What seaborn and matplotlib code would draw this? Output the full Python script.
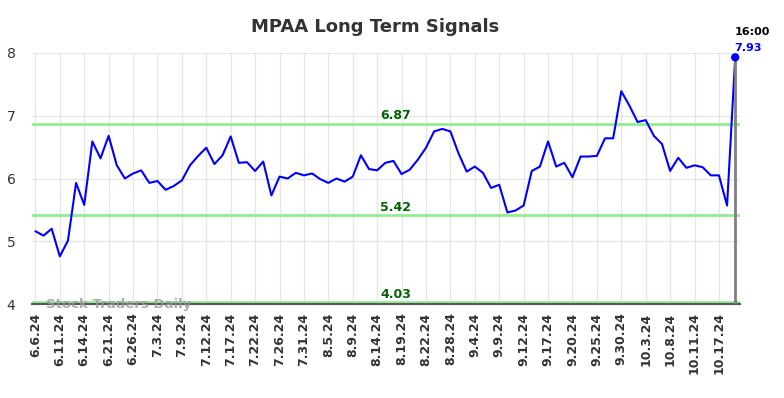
import numpy as np
import pandas as pd
import matplotlib
matplotlib.use("Agg")
import matplotlib.pyplot as plt
import seaborn as sns

# daily closes (one per trading day)
prices = [5.16, 5.09, 5.20, 4.76, 5.01, 5.93, 5.58, 6.59, 6.32, 6.68,
          6.21, 6.00, 6.08, 6.13, 5.93, 5.96, 5.82, 5.88, 5.97, 6.21,
          6.36, 6.49, 6.23, 6.37, 6.67, 6.25, 6.26, 6.12, 6.27, 5.73,
          6.03, 6.00, 6.09, 6.05, 6.08, 5.99, 5.93, 6.00, 5.95, 6.03,
          6.37, 6.15, 6.13, 6.25, 6.28, 6.07, 6.14, 6.30, 6.49, 6.75,
          6.79, 6.75, 6.40, 6.11, 6.19, 6.09, 5.85, 5.90, 5.46, 5.49,
          5.57, 6.12, 6.19, 6.59, 6.19, 6.25, 6.02, 6.35, 6.35, 6.36,
          6.64, 6.64, 7.39, 7.16, 6.90, 6.93, 6.68, 6.55, 6.12, 6.33,
          6.17, 6.21, 6.18, 6.05, 6.05, 5.57, 7.93]

tick_labels = ["6.6.24", "6.11.24", "6.14.24", "6.21.24", "6.26.24", "7.3.24",
               "7.9.24", "7.12.24", "7.17.24", "7.22.24", "7.26.24", "7.31.24",
               "8.5.24", "8.9.24", "8.14.24", "8.19.24", "8.22.24", "8.28.24",
               "9.4.24", "9.9.24", "9.12.24", "9.17.24", "9.20.24", "9.25.24",
               "9.30.24", "10.3.24", "10.8.24", "10.11.24", "10.17.24"]

signal_levels = [6.87, 5.42, 4.03]
last_time = "16:00"

df = pd.DataFrame({"idx": np.arange(len(prices)), "price": prices})

sns.set_style("whitegrid")
fig = plt.figure(figsize=(7.84, 3.98), dpi=100)
ax = fig.add_axes([0.041, 0.236, 0.903, 0.631])

sns.lineplot(data=df, x="idx", y="price", color="#0000ff", linewidth=1.5, ax=ax)
sns.scatterplot(data=df.tail(1), x="idx", y="price", color="#0000ff", s=36,
                edgecolor="none", ax=ax, zorder=5)

# level labels sit a little right of centre
label_x = 44.3
for lvl in signal_levels:
    ax.axhline(lvl, color="#90ee90", linewidth=2, zorder=1)
    ax.annotate(f"{lvl:.2f}", (label_x, lvl), xytext=(0, 1), textcoords="offset points",
                ha="center", va="bottom", color="#006400", fontsize=9, fontweight="bold")

last_i = len(prices) - 1
ax.vlines(last_i, 4, prices[-1], color="#808080", linewidth=2, zorder=4)
ax.annotate(last_time, (last_i, prices[-1]), xytext=(12, 18), textcoords="offset points",
            ha="center", va="center", fontsize=8, fontweight="bold", color="black")
ax.annotate(f"{prices[-1]:.2f}", (last_i, prices[-1]), xytext=(9, 7), textcoords="offset points",
            ha="center", va="center", fontsize=8, fontweight="bold", color="#0000ff")

ax.text(1.3, 4.0, "Stock Traders Daily", fontsize=9.5, fontweight="bold",
        color="#999999", alpha=0.8, va="center", ha="left", zorder=6)

ax.set_xlim(-0.4, 86.6)
ax.set_ylim(4, 8)
ax.set_yticks([4, 5, 6, 7, 8])
ax.set_xticks(np.arange(0, len(tick_labels) * 3, 3))
ax.set_xticklabels(tick_labels, rotation=90, fontsize=9, fontweight="bold", color="#333333")
ax.tick_params(axis="y", labelsize=10, labelcolor="#333333", length=0, pad=12)
ax.tick_params(axis="x", length=0, pad=6)
ax.set_xlabel("")
ax.set_ylabel("")
ax.grid(color="#e6e6e6", linewidth=1)
for side in ["left", "right", "top"]:
    ax.spines[side].set_visible(False)
ax.spines["bottom"].set_color("#555555")
ax.spines["bottom"].set_linewidth(1.5)

fig.suptitle("MPAA Long Term Signals", x=0.478, y=0.955, fontsize=13,
             fontweight="bold", color="#333333")

fig.savefig("out.png", dpi=100)
